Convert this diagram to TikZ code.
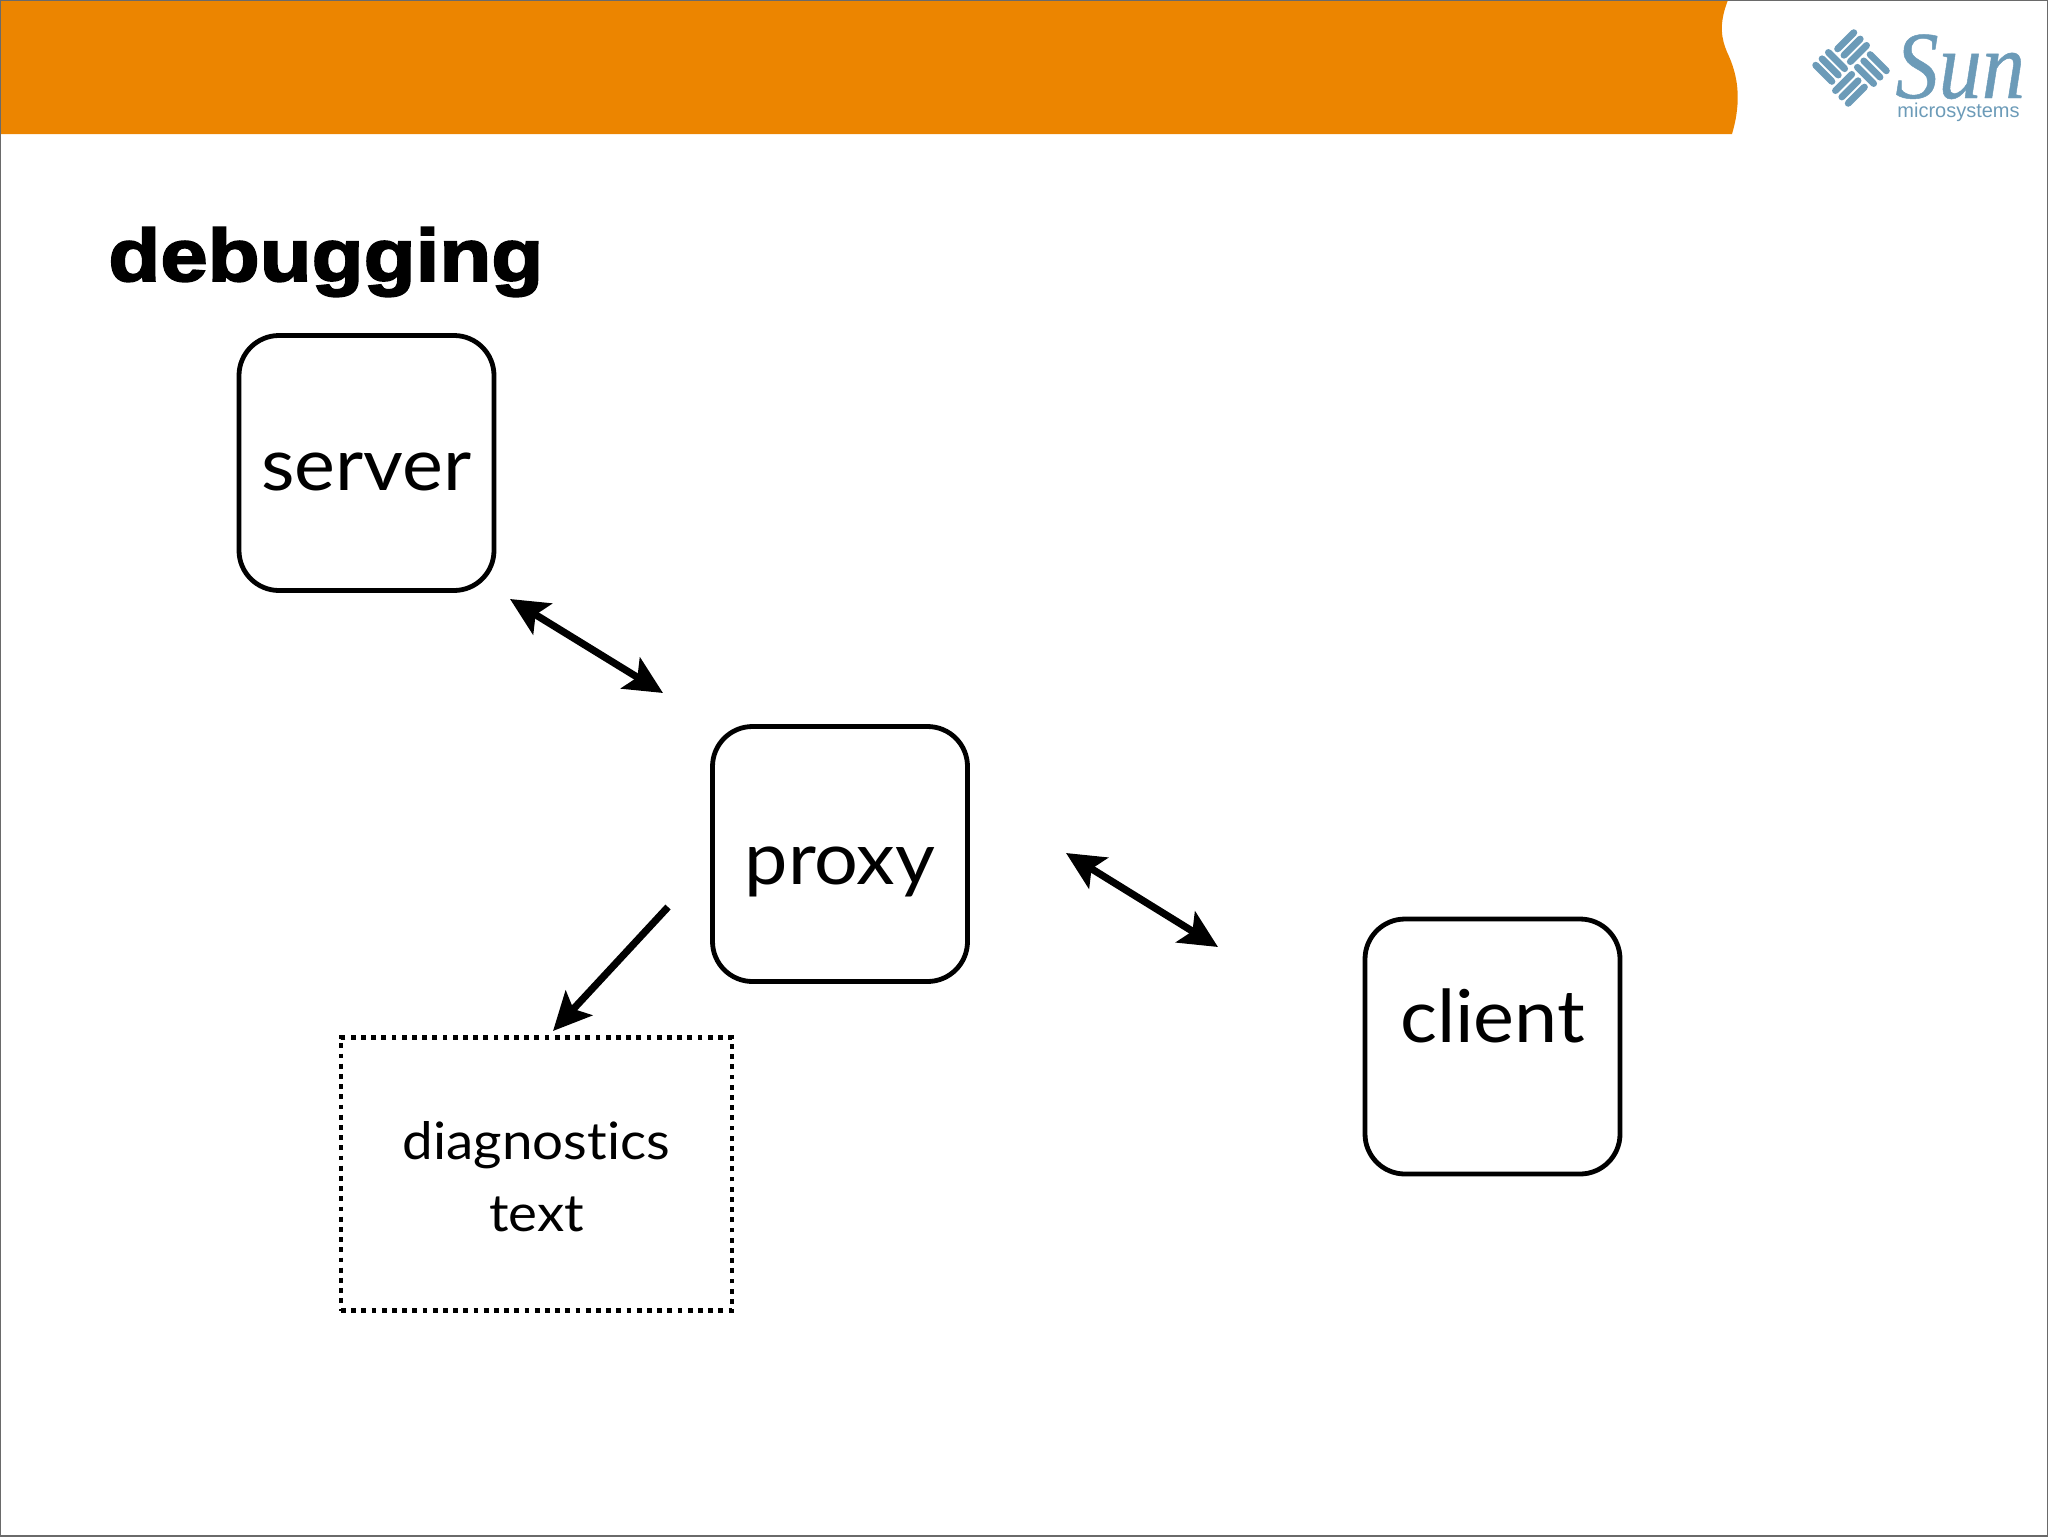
\documentclass[tikz,border=0pt]{standalone}
\usepackage{fontspec}
\usepackage{tikz}
\usetikzlibrary{arrows.meta}
\setmainfont[Ligatures=NoCommon,FakeStretch=1.06]{Lato}
\newfontfamily\titlefont[FakeBold=2.6,FakeStretch=1.15]{Liberation Sans Bold}
\newfontfamily\logofont[FakeBold=0.5,FakeStretch=0.9]{Liberation Serif Italic}
\newfontfamily\logosans{Liberation Sans}
\definecolor{bandorange}{HTML}{EC8500}
\definecolor{logoblue}{HTML}{6C9BB8}
\definecolor{framegray}{HTML}{6A6A6A}
\tikzset{
  hostbox/.style={draw,line width=2.4pt,rounded corners=20pt,minimum width=127.5pt,minimum height=127.5pt,inner sep=0pt,font=\fontsize{36.5}{36.5}\selectfont},
  notebox/.style={draw,line width=2.4pt,dash pattern=on 2.4pt off 2.7pt,minimum width=195.5pt,minimum height=136.5pt,inner sep=0pt,align=center,font=\fontsize{25.8}{36}\selectfont},
  linkarrow/.style={line width=3.6pt,{Stealth[length=19pt,width=18pt,inset=4pt]}-{Stealth[length=19pt,width=18pt,inset=4pt]}},
  feedarrow/.style={line width=3.6pt,-{Stealth[length=19pt,width=18pt,inset=4pt]}}
}
\begin{document}
\begin{tikzpicture}[x=0.5pt,y=-0.5pt]
\useasboundingbox (0,0) rectangle (2048,1536);
%Header band
\fill [bandorange] (0,0) -- (1728,0) .. controls (1718,25) and (1722,40) .. (1727,52) .. controls (1738,75) and (1742,100) .. (1732,134) -- (0,134) -- cycle;
%Frame
\draw [framegray,line width=1pt] (0,0) rectangle (2048,1536);
%Logo mark
\begin{scope}[shift={(1851,68)},rotate=45]
\foreach \a in {0,90,180,270}
  \foreach \k in {0,1,2}
    \draw [logoblue,line width=3.4pt,line cap=round,rotate=\a] (5+\k*9,4) -- (5+\k*9,27);
\end{scope}
% Text Node
\node (sunname) [anchor=base west,inner sep=0pt,text=logoblue,font=\logofont\fontsize{48}{48}\selectfont] at (1895,98) {Sun};
% Text Node
\node (sunsub) [anchor=base west,inner sep=0pt,text=logoblue,font=\logosans\fontsize{10}{10}\selectfont] at (1897,118) {microsystems};
% Text Node
\node (title) [anchor=base west,inner sep=0pt,font=\titlefont\fontsize{37}{37}\selectfont] at (108,281) {debugging};
%Boxes
\node (server) [hostbox,text height=27.6pt,text depth=0pt] at (366.5,463) {server};
\node (proxy) [hostbox,text height=30pt,text depth=0pt] at (840,854) {proxy};
\node (client) [hostbox,text height=13pt,text depth=17pt] at (1492.5,1046.5) {client};
\node (notes) [notebox] at (536.5,1174) {\rule{0pt}{22pt}diagnostics\\text};
%Connector ends
\coordinate (serverend) at (510,599);
\coordinate (proxyend) at (663,693);
\coordinate (proxyport) at (1066,853);
\coordinate (clientend) at (1218,947);
\coordinate (feedstart) at (668,907);
\coordinate (feedend) at (553,1031);
%Arrows
\draw [linkarrow] (serverend) -- (proxyend);
\draw [linkarrow] (proxyport) -- (clientend);
\draw [feedarrow] (feedstart) -- (feedend);
\end{tikzpicture}
\end{document}
